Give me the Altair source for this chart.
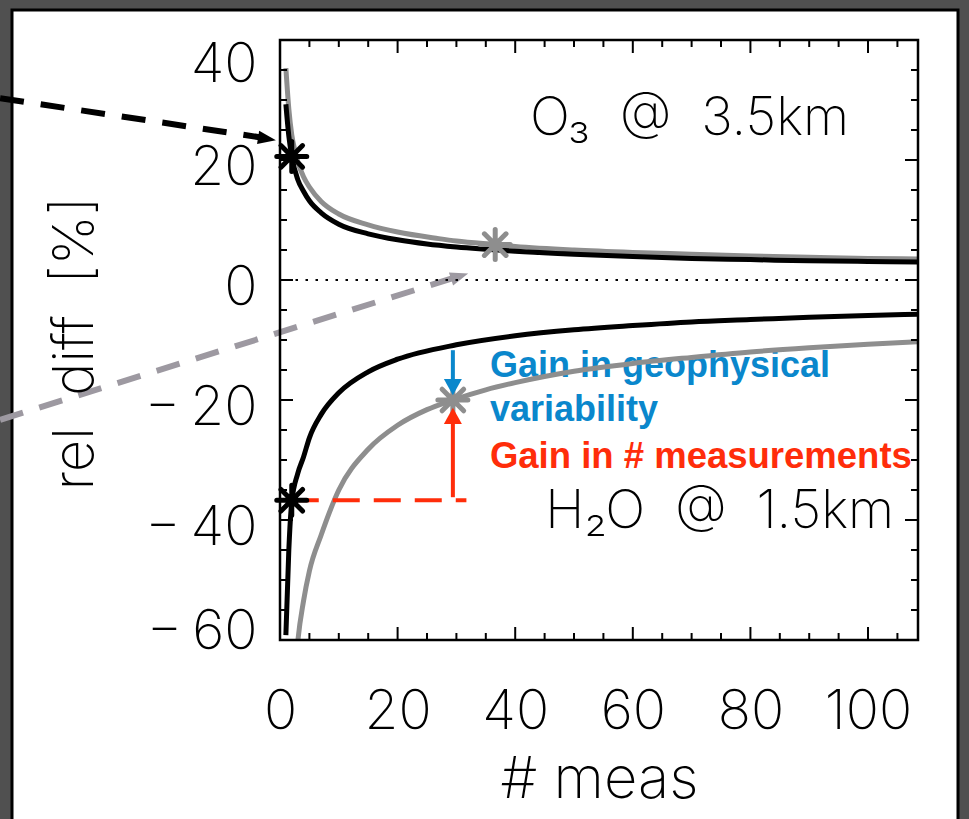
import altair as alt
import pandas as pd

# ---------------- data ----------------
# O3 @ 3.5 km
o3_black_n = [1, 1.5, 2, 3, 4, 5, 7, 10, 15, 20, 25, 30, 40, 50, 60, 70, 80, 90, 100, 108.5]
o3_black_v = [29.3, 24.0, 20.6, 16.8, 14.8, 13.2, 11.2, 9.3, 7.7, 6.7, 6.0, 5.5, 4.8, 4.3, 3.9, 3.6, 3.4, 3.2, 3.1, 3.0]
o3_gray_n = [1, 1.5, 2, 2.6, 3, 4, 5, 7, 10, 15, 20, 27, 30, 36.6, 40, 50, 60, 70, 80, 90, 100, 108.5]
o3_gray_v = [35.3, 28.5, 24.2, 21.3, 19.8, 17.2, 15.5, 13.1, 11.0, 9.2, 8.0, 6.9, 6.5, 5.9, 5.6, 5.0, 4.6, 4.3, 4.0, 3.8, 3.6, 3.5]
# H2O @ 1.5 km
h2o_black_n = [1, 1.5, 2, 3, 4, 5, 7, 10, 15, 20, 30, 40, 50, 60, 70, 80, 90, 100, 108.5]
h2o_black_v = [-59.2, -45.0, -37.0, -32.3, -29.5, -26.3, -22.4, -18.8, -15.3, -13.2, -10.8, -9.3, -8.3, -7.6, -7.0, -6.6, -6.2, -5.9, -5.7]
h2o_gray_n = [2.7, 3, 4, 5, 7, 10, 15, 20, 25, 29.4, 35, 40, 50, 60, 70, 80, 90, 100, 108.5]
h2o_gray_v = [-64.0, -60.5, -53.5, -48.5, -42.5, -35.0, -28.2, -24.2, -21.6, -20.0, -18.3, -17.1, -15.2, -13.9, -12.9, -12.0, -11.3, -10.7, -10.3]

# asterisk markers
star_n = [2, 36.6, 2, 29.4]
star_v = [20.6, 5.9, -36.7, -20.0]
star_col = ["black", "#8e8e8e", "black", "#8e8e8e"]

# annotation lines / arrows (data coordinates)
black_dash_n = [-47.6, -3.5]
black_dash_v = [30.3, 23.8]
black_tip = (-0.7, 23.3)
gray_dash_n = [-47.6, 29.4]
gray_dash_v = [-23.3, 0.3]
gray_tip = (32.0, 1.1)
red_dash_n = [2, 31.7]
red_dash_v = [-36.7, -36.7]
red_shaft_n, red_shaft_v1, red_shaft_v2, red_tip_v = 29.4, -36.2, -23.5, -21.3
blue_shaft_n, blue_shaft_v1, blue_shaft_v2, blue_tip_v = 29.4, -11.7, -17.5, -19.2

# text annotations
lbl_text = ["O\u2083\u00a0\u00a0@\u00a0\u00a03.5km", "H\u2082O\u00a0\u00a0@\u00a0\u00a01.5km"]
lbl_n = [42.5, 45.1]
lbl_v = [24.2, -41.3]
blue_text = ["Gain in geophysical", "variability"]
blue_n = [35.7, 35.7]
blue_v = [-16.2, -23.5]
red_text = ["Gain in # measurements"]
red_n = [35.7]
red_v = [-31.3]

# ticks
x_major = [0, 20, 40, 60, 80, 100]
x_minor = [5, 10, 15, 25, 30, 35, 45, 50, 55, 65, 70, 75, 85, 90, 95, 105]
y_major = [-60, -40, -20, 0, 20, 40]
y_minor = [-55, -50, -45, -35, -30, -25, -15, -10, -5, 5, 10, 15, 25, 30, 35]

# ---------------- chart ----------------
W, H = 638, 600
XS = alt.Scale(domain=[0, 108.5], nice=False, zero=False)
YS = alt.Scale(domain=[-60, 40], nice=False, zero=False)
GRAY = "#8e8e8e"
RED = "#ff2d0a"
BLUE = "#0a87cc"
FONT = "Inter"


def xe(f="n"):
    return alt.X(f"{f}:Q", scale=XS)


def ye(f="v"):
    return alt.Y(f"{f}:Q", scale=YS)


one = pd.DataFrame({"a": [0]})

bg = alt.Chart(one).mark_rect(fill="white", stroke="black", strokeWidth=3).encode(
    x=alt.value(-268), x2=alt.value(678), y=alt.value(-30), y2=alt.value(800))

# dashed annotation arrows
bd = pd.DataFrame({"n": black_dash_n, "v": black_dash_v})
black_dash = alt.Chart(bd).mark_line(color="black", strokeWidth=6, strokeDash=[24, 17]).encode(x=xe(), y=ye())
black_head = alt.Chart(pd.DataFrame({"n": [black_tip[0]], "v": [black_tip[1]]})).mark_point(
    shape="M0,0L-2.4,-0.9L-2.4,0.9Z", filled=True, color="black", opacity=1, size=225, angle=9).encode(x=xe(), y=ye())
gd = pd.DataFrame({"n": gray_dash_n, "v": gray_dash_v})
gray_dash = alt.Chart(gd).mark_line(color="#9d99a1", strokeWidth=6, strokeDash=[24, 17]).encode(x=xe(), y=ye())
gray_head = alt.Chart(pd.DataFrame({"n": [gray_tip[0]], "v": [gray_tip[1]]})).mark_point(
    shape="M0,0L-2.4,-0.9L-2.4,0.9Z", filled=True, color="#9d99a1", opacity=1, size=225, angle=342).encode(x=xe(), y=ye())

zero = alt.Chart(pd.DataFrame({"v": [0]})).mark_rule(color="black", strokeWidth=2, strokeDash=[2.5, 7.5]).encode(y=ye())

# texts
t_black = alt.Chart(pd.DataFrame({"t": lbl_text, "n": lbl_n, "v": lbl_v})).mark_text(
    align="left", baseline="alphabetic", font=FONT, fontWeight=200, fontSize=53, color="black").encode(
    x=xe(), y=ye(), text="t:N")
t_blue = alt.Chart(pd.DataFrame({"t": blue_text, "n": blue_n, "v": blue_v})).mark_text(
    align="left", baseline="alphabetic", font="Liberation Sans", fontWeight="bold", fontSize=36, color=BLUE).encode(
    x=xe(), y=ye(), text="t:N")
t_red = alt.Chart(pd.DataFrame({"t": red_text, "n": red_n, "v": red_v})).mark_text(
    align="left", baseline="alphabetic", font="Liberation Sans", fontWeight="bold", fontSize=36.5, color=RED).encode(
    x=xe(), y=ye(), text="t:N")

# curves
gray_df = pd.concat([
    pd.DataFrame({"n": o3_gray_n, "v": o3_gray_v, "s": "o3"}),
    pd.DataFrame({"n": h2o_gray_n, "v": h2o_gray_v, "s": "h2o"}),
])
black_df = pd.concat([
    pd.DataFrame({"n": o3_black_n, "v": o3_black_v, "s": "o3"}),
    pd.DataFrame({"n": h2o_black_n, "v": h2o_black_v, "s": "h2o"}),
])

x_axis = alt.Axis(
    values=x_major, domain=False, ticks=False, tickSize=0, grid=False, labelFlush=False, labelOverlap=False,
    labelFont=FONT, labelFontWeight=200, labelFontSize=55, labelColor="black", labelPadding=45,
    title="#\u00a0meas", titleFont=FONT, titleFontWeight=200, titleFontSize=58, titleColor="black",
    titleX=319, titleY=157, titleBaseline="alphabetic", titleAlign="center", zindex=2)
y_axis = alt.Axis(
    values=y_major, domain=False, ticks=False, tickSize=0, grid=False, labelFlush=False, labelOverlap=False,
    labelFont=FONT, labelFontWeight=200, labelFontSize=55, labelColor="black", labelPadding=23,
    labelBaseline="middle",
    labelOffset={"condition": [{"test": "datum.value == 40", "value": 24},
                               {"test": "datum.value == -60", "value": -9}], "value": 7},
    labelExpr="datum.value < 0 ? '\u2212\u2009' + abs(datum.value) : datum.label",
    title="rel\u00a0\u00a0diff\u00a0\u00a0[%]", titleFont=FONT, titleFontWeight=200, titleFontSize=56,
    titleColor="black",
    titleX=-188, titleY=303, titleAngle=270, titleBaseline="alphabetic", titleAlign="center", zindex=2)

gray_lines = alt.Chart(gray_df).mark_line(color=GRAY, strokeWidth=5, clip=True, interpolate="monotone").encode(
    x=alt.X("n:Q", scale=XS, axis=x_axis), y=alt.Y("v:Q", scale=YS, axis=y_axis), detail="s:N")
black_lines = alt.Chart(black_df).mark_line(color="black", strokeWidth=5, clip=True, interpolate="monotone").encode(
    x=xe(), y=ye(), detail="s:N")

# red dashed horizontal
red_dash = alt.Chart(pd.DataFrame({"n": red_dash_n, "v": red_dash_v})).mark_line(
    color=RED, strokeWidth=4, strokeDash=[27, 14]).encode(x=xe(), y=ye())

# stars
STAR = "M-1,0L1,0M0,-1L0,1M-0.72,-0.72L0.72,0.72M-0.72,0.72L0.72,-0.72"
stars = alt.Chart(pd.DataFrame({"n": star_n, "v": star_v, "c": star_col})).mark_point(
    shape=STAR, filled=False, strokeWidth=5, size=900, opacity=1, strokeCap="round").encode(
    x=xe(), y=ye(), stroke=alt.Stroke("c:N", scale=None))

# vertical arrows
red_shaft = alt.Chart(pd.DataFrame({"n": [red_shaft_n], "v": [red_shaft_v1], "v2": [red_shaft_v2]})).mark_rule(
    color=RED, strokeWidth=4).encode(x=xe(), y=ye(), y2="v2:Q")
red_head = alt.Chart(pd.DataFrame({"n": [red_shaft_n], "v": [red_tip_v]})).mark_point(
    shape="M0,0L-1,1.8L1,1.8Z", filled=True, color=RED, opacity=1, size=324).encode(x=xe(), y=ye())
blue_shaft = alt.Chart(pd.DataFrame({"n": [blue_shaft_n], "v": [blue_shaft_v1], "v2": [blue_shaft_v2]})).mark_rule(
    color=BLUE, strokeWidth=4).encode(x=xe(), y=ye(), y2="v2:Q")
blue_head = alt.Chart(pd.DataFrame({"n": [blue_shaft_n], "v": [blue_tip_v]})).mark_point(
    shape="M0,0L-1,-1.8L1,-1.8Z", filled=True, color=BLUE, opacity=1, size=324).encode(x=xe(), y=ye())

# inward ticks on all four sides
def xticks(vals, length):
    d = pd.DataFrame({"n": vals})
    bot = alt.Chart(d).mark_rule(color="black", strokeWidth=2).encode(
        x=xe(), y=alt.value(H), y2=alt.value(H - length))
    top = alt.Chart(d).mark_rule(color="black", strokeWidth=2).encode(
        x=xe(), y=alt.value(0), y2=alt.value(length))
    return [bot, top]


def yticks(vals, length):
    d = pd.DataFrame({"v": vals})
    left = alt.Chart(d).mark_rule(color="black", strokeWidth=2).encode(
        y=ye(), x=alt.value(0), x2=alt.value(length))
    right = alt.Chart(d).mark_rule(color="black", strokeWidth=2).encode(
        y=ye(), x=alt.value(W), x2=alt.value(W - length))
    return [left, right]


ticks = xticks(x_major, 13) + xticks(x_minor, 7) + yticks(y_major, 13) + yticks(y_minor, 7)

frame = alt.Chart(one).mark_rect(filled=False, stroke="black", strokeWidth=2.5).encode(
    x=alt.value(0), x2=alt.value(W), y=alt.value(0), y2=alt.value(H))

chart = alt.layer(
    bg, black_dash, black_head, gray_dash, gray_head, zero,
    t_black, t_blue, t_red,
    gray_lines, black_lines, red_dash, stars,
    red_shaft, red_head, blue_shaft, blue_head,
    *ticks, frame
).properties(
    width=W, height=H,
    autosize=alt.AutoSizeParams(type="none"),
    padding={"left": 280, "top": 40, "right": 51, "bottom": 179},
    background="#505050",
).configure_view(strokeWidth=0)

chart.save("out.html", embed_options={"renderer": "svg", "actions": False})
